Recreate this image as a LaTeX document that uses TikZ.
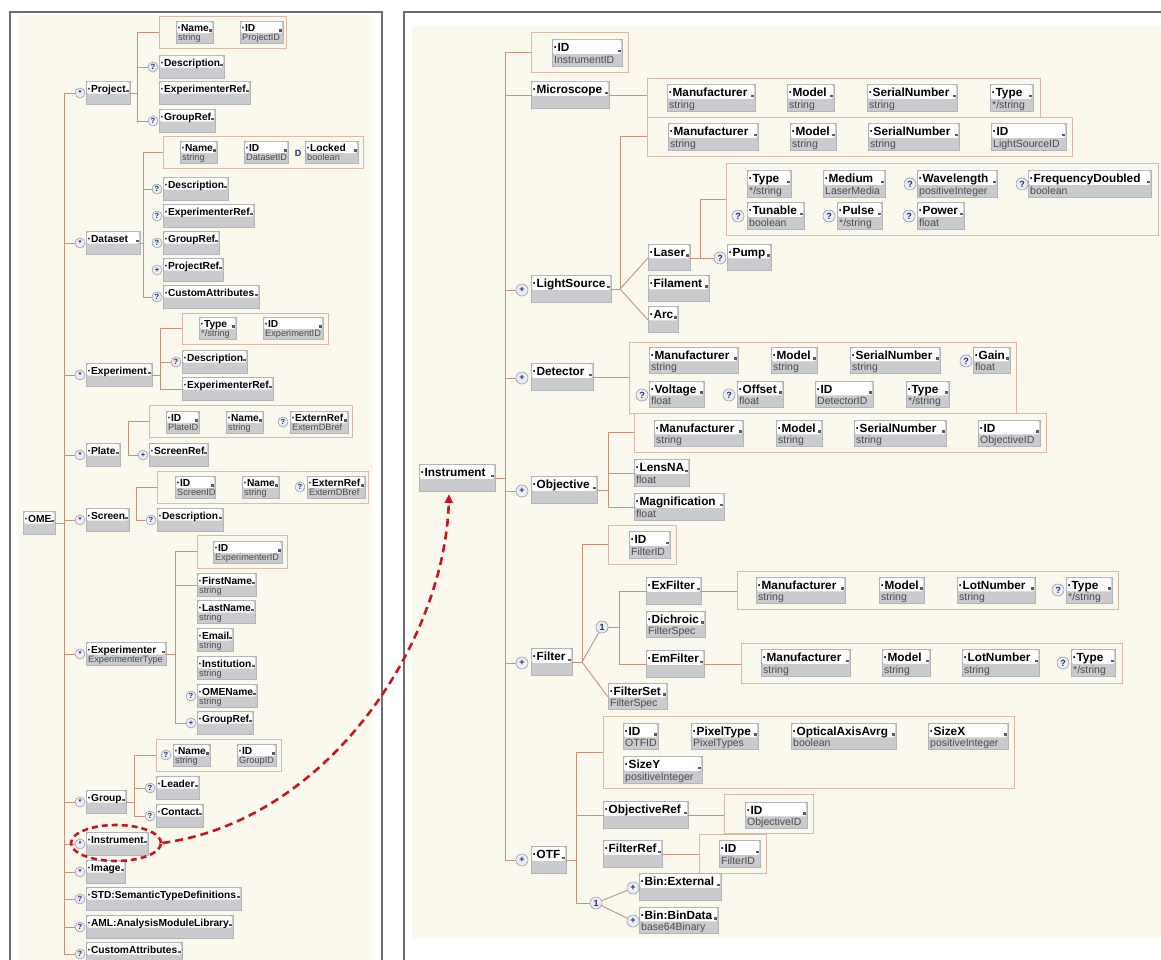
\documentclass[tikz,border=0pt]{standalone}
\usepackage{fontspec}
\setmainfont{Liberation Sans}
\usetikzlibrary{shapes.geometric,arrows.meta}
\definecolor{bg}{RGB}{251,248,238}
\definecolor{conncol}{RGB}{200,145,125}
\definecolor{grpb}{RGB}{218,185,170}
\definecolor{eg}{RGB}{201,203,207}
\definecolor{egb}{RGB}{178,180,184}
\definecolor{markc}{RGB}{90,90,95}
\definecolor{typc}{RGB}{75,75,80}
\definecolor{bfill}{RGB}{236,238,245}
\definecolor{bdraw}{RGB}{150,156,172}
\definecolor{btext}{RGB}{30,45,110}
\definecolor{fr}{RGB}{110,110,110}
\definecolor{redd}{RGB}{200,22,30}
\def\lblfont{\bfseries\fontsize{10.2}{12}\selectfont}
\def\typfont{\fontsize{9.2}{11}\selectfont}
\def\bfont{\bfseries\fontsize{7.5}{8}\selectfont}
\def\bsz{10}
\def\io{12}
\tikzset{
 elembox/.style={anchor=north west, draw=egb, fill=eg, line width=0.5pt, inner sep=0pt, outer sep=0pt, rectangle},
 grpbox/.style={anchor=north west, draw=grpb, fill=bg, line width=0.9pt, inner sep=0pt, outer sep=0pt, rectangle},
 lbl/.style={anchor=base west, inner sep=0pt, font=\lblfont},
 typ/.style={anchor=base west, inner sep=0pt, font=\typfont, text=typc},
 badge/.style={circle, draw=bdraw, fill=bfill, line width=0.6pt, inner sep=0pt, minimum size=\bsz pt, font=\bfont, text=btext},
 conn/.style={draw=conncol, line width=0.9pt},
 frameline/.style={draw=fr, line width=1.3pt},
 reddash/.style={draw=redd, line width=2.6pt, dash pattern=on 8pt off 5pt},
}
\newcommand\elem[7]{%
  \node[elembox, minimum width=#4pt, minimum height=#5pt] (#1) at (#2,#3) {};
  \fill[white, rounded corners=1.5pt] (#2+1,#3+1) rectangle (#2+#4-1,#3+0.55*#5);
  \fill[markc] (#2+#4-4,#3+0.55*#5-4) rectangle (#2+#4-1.5,#3+0.55*#5-1.5);
  \node[lbl] (#1-l) at (#2+1.5,#3+0.48*#5) {·#6};
  \node[typ] (#1-t) at (#2+2,#3+#5-2.5) {#7};
  \coordinate (#1-in) at (#2,#3+\io);
  \coordinate (#1-out) at (#2+#4,#3+\io);
}
\newcommand\grp[5]{\node[grpbox, minimum width=#4pt, minimum height=#5pt] (#1) at (#2,#3) {};}
\newcommand\bdg[4]{\node[badge] (#1) at (#2,#3) {#4};}
\newcommand\spine[3]{\draw[conn] (#2) -- (#2 -| #1) -- (#3 -| #1) -- (#3);}
\newcommand\stub[2]{\draw[conn] (#2) -- (#2 -| #1);}
\begin{document}
\begin{tikzpicture}[x=1pt,y=-1pt]
\useasboundingbox (0,0) rectangle (1161,960);
\fill[white] (0,0) rectangle (1161,960);
% panels
\fill[bg] (18,15) rectangle (373,960);
\draw[frameline] (10,960) -- (10,12) -- (382,12) -- (382,960);
\fill[bg] (412,26) rectangle (1161,938);
\draw[frameline] (404,960) -- (404,12) -- (1161,12);

% ================= LEFT PANEL =================
% Project
\grp{pjbox}{159}{16}{127}{32}
\elem{pjname}{176}{21}{37}{22}{Name}{string}
\elem{pjid}{240}{21}{43}{22}{ID}{ProjectID}
\elem{pjdesc}{159}{55}{65}{23}{Description}{}
\bdg{pjdesc-b}{153}{67}{?}
\elem{pjexp}{159}{81}{91}{23}{ExperimenterRef}{}
\elem{pjgrp}{159}{109}{56}{23}{GroupRef}{}
\bdg{pjgrp-b}{153}{121}{?}
\elem{project}{86}{81}{44}{23}{Project}{}
\bdg{project-b}{80}{93}{*}
% Dataset
\grp{dsbox}{163}{136}{200}{32}
\elem{dsname}{180}{141}{37}{22}{Name}{string}
\elem{dsid}{244}{141}{44}{22}{ID}{DatasetID}
\node[inner sep=0pt, text=btext, font=\bfseries\fontsize{9}{9}\selectfont] (dsD) at (298,153) {D};
\elem{dslock}{305}{141}{53}{22}{Locked}{boolean}
\elem{dsdesc}{163}{177}{65}{23}{Description}{}
\bdg{dsdesc-b}{157}{189}{?}
\elem{dsexp}{163}{204}{91}{23}{ExperimenterRef}{}
\bdg{dsexp-b}{157}{216}{?}
\elem{dsgrp}{163}{231}{56}{23}{GroupRef}{}
\bdg{dsgrp-b}{157}{243}{?}
\elem{dsproj}{163}{258}{60}{23}{ProjectRef}{}
\bdg{dsproj-b}{157}{270}{+}
\elem{dscust}{163}{285}{96}{23}{CustomAttributes}{}
\bdg{dscust-b}{157}{297}{?}
\elem{dataset}{86}{231}{54}{23}{Dataset}{}
\bdg{dataset-b}{80}{243}{*}
% Experiment
\grp{exbox}{182}{313}{146}{31}
\elem{extype}{199}{317}{37}{22}{Type}{*/string}
\elem{exid}{263}{317}{60}{22}{ID}{ExperimentID}
\elem{exdesc}{182}{350}{65}{23}{Description}{}
\bdg{exdesc-b}{176}{362}{?}
\elem{exexp}{182}{377}{91}{23}{ExperimenterRef}{}
\elem{experiment}{86}{363}{66}{23}{Experiment}{}
\bdg{experiment-b}{80}{375}{*}
% Plate
\grp{plbox}{149}{405}{203}{32}
\elem{plid}{166}{411}{33}{22}{ID}{PlateID}
\elem{plname}{226}{411}{37}{22}{Name}{string}
\bdg{plext-b}{283}{422}{?}
\elem{plext}{290}{411}{58}{22}{ExternRef}{ExternDBref}
\elem{plate}{86}{443}{34}{23}{Plate}{}
\bdg{plate-b}{80}{455}{*}
\elem{plscr}{149}{443}{59}{23}{ScreenRef}{}
\bdg{plscr-b}{143}{455}{+}
% Screen
\grp{scbox}{157}{471}{211}{32}
\elem{scid}{175}{476}{40}{22}{ID}{ScreenID}
\elem{scname}{242}{476}{37}{22}{Name}{string}
\bdg{scext-b}{300}{487}{?}
\elem{scext}{307}{476}{58}{22}{ExternRef}{ExternDBref}
\elem{screen}{86}{508}{43}{23}{Screen}{}
\bdg{screen-b}{80}{520}{*}
\elem{scdesc}{157}{508}{66}{23}{Description}{}
\bdg{scdesc-b}{151}{520}{?}
% OME
\elem{ome}{23}{511}{32}{23}{OME}{}
% Experimenter
\grp{eibox}{197}{535}{90}{33}
\elem{eiid}{213}{541}{69}{22}{ID}{ExperimenterID}
\elem{efirst}{197}{573}{59}{23}{FirstName}{string}
\elem{elast}{197}{600}{58}{23}{LastName}{string}
\elem{email}{197}{628}{36}{23}{Email}{string}
\elem{einst}{197}{656}{59}{23}{Institution}{string}
\elem{eome}{197}{684}{60}{23}{OMEName}{string}
\bdg{eome-b}{191}{696}{?}
\elem{egrp}{197}{711}{56}{23}{GroupRef}{}
\bdg{egrp-b}{191}{723}{+}
\elem{experimenter}{86}{642}{80}{23}{Experimenter}{ExperimenterType}
\bdg{experimenter-b}{80}{654}{*}
% Group
\grp{gpbox}{156}{739}{125}{32}
\bdg{gpname-b}{166}{755}{?}
\elem{gpname}{173}{744}{37}{22}{Name}{string}
\elem{gpid}{237}{744}{39}{22}{ID}{GroupID}
\elem{gplead}{156}{776}{43}{23}{Leader}{}
\bdg{gplead-b}{150}{788}{?}
\elem{gpcont}{156}{804}{47}{23}{Contact}{}
\bdg{gpcont-b}{150}{816}{?}
\elem{group}{86}{790}{40}{23}{Group}{}
\bdg{group-b}{80}{802}{*}
% rest
\elem{instrL}{86}{832}{62}{23}{Instrument}{}
\bdg{instrL-b}{80}{844}{*}
\elem{image}{86}{860}{39}{23}{Image}{}
\bdg{image-b}{80}{872}{*}
\elem{std}{86}{887}{155}{23}{STD:SemanticTypeDefinitions}{}
\bdg{std-b}{80}{899}{?}
\elem{aml}{86}{915}{147}{23}{AML:AnalysisModuleLibrary}{}
\bdg{aml-b}{80}{927}{?}
\elem{cust}{86}{942}{96}{23}{CustomAttributes}{}
\bdg{cust-b}{80}{954}{?}

% left connectors
\coordinate (mS) at (64,0);
\spine{mS}{project-b.west}{cust-b.west}
\stub{mS}{ome-out}
\foreach \n in {dataset,experiment,plate,screen,experimenter,group,instrL,image,std,aml}{\stub{mS}{\n-b.west}}
\coordinate (pjS) at (137,0);
\spine{pjS}{pjbox.west}{pjgrp-b.west}
\stub{pjS}{pjdesc-b.west}
\stub{pjS}{project-out}
\coordinate (dsS) at (143,0);
\spine{dsS}{dsbox.west}{dscust-b.west}
\stub{dsS}{dsdesc-b.west}
\stub{dsS}{dataset-out}
\coordinate (exS) at (160,0);
\spine{exS}{exbox.west}{exexp-in}
\stub{exS}{exdesc-b.west}
\stub{exS}{experiment-out}
\coordinate (plS) at (128,0);
\spine{plS}{plbox.west}{plscr-b.west}
\coordinate (scS) at (136,0);
\spine{scS}{scbox.west}{scdesc-b.west}
\coordinate (eS) at (175,0);
\spine{eS}{eibox.west}{egrp-b.west}
\stub{eS}{efirst-in}
\stub{eS}{experimenter-out}
\coordinate (gS) at (134,0);
\spine{gS}{gpbox.west}{gpcont-b.west}
\stub{gS}{gplead-b.west}
\stub{gS}{group-out}

% ================= RIGHT PANEL =================
\def\lblfont{\bfseries\fontsize{11.8}{13}\selectfont}
\def\typfont{\fontsize{10.5}{12}\selectfont}
\def\bfont{\bfseries\fontsize{9}{9}\selectfont}
\def\bsz{12}
\def\io{14}
\elem{instrR}{419}{464}{76}{27}{Instrument}{}
\grp{idbox}{531}{32}{97}{40}
\elem{idin}{552}{39}{70}{27}{ID}{InstrumentID}
\elem{micro}{531}{81}{78}{27}{Microscope}{}
\grp{mibox}{647}{78}{393}{39}
\elem{mim}{667}{84}{88}{27}{Manufacturer}{string}
\elem{mimo}{787}{84}{47}{27}{Model}{string}
\elem{mis}{867}{84}{90}{27}{SerialNumber}{string}
\elem{mit}{990}{84}{43}{27}{Type}{*/string}
\grp{lsbox}{647}{117}{425}{39}
\elem{lsm}{668}{123}{90}{27}{Manufacturer}{string}
\elem{lsmo}{790}{123}{46}{27}{Model}{string}
\elem{lss}{868}{123}{91}{27}{SerialNumber}{string}
\elem{lsid}{991}{123}{75}{27}{ID}{LightSourceID}
\grp{labox}{726}{163}{432}{72}
\elem{latype}{747}{170}{44}{27}{Type}{*/string}
\elem{lamed}{823}{170}{62}{27}{Medium}{LaserMedia}
\bdg{lawave-b}{910}{184}{?}
\elem{lawave}{917}{170}{80}{27}{Wavelength}{positiveInteger}
\bdg{lafreq-b}{1022}{184}{?}
\elem{lafreq}{1028}{170}{123}{27}{FrequencyDoubled}{boolean}
\bdg{latun-b}{738}{216}{?}
\elem{latun}{747}{202}{57}{27}{Tunable}{boolean}
\bdg{lapulse-b}{829}{216}{?}
\elem{lapulse}{837}{202}{45}{27}{Pulse}{*/string}
\bdg{lapow-b}{909}{216}{?}
\elem{lapow}{917}{202}{47}{27}{Power}{float}
\elem{laser}{648}{244}{42}{26}{Laser}{}
\elem{pump}{727}{244}{44}{26}{Pump}{}
\bdg{pump-b}{720}{258}{?}
\elem{filament}{648}{275}{61}{26}{Filament}{}
\elem{arc}{648}{306}{30}{26}{Arc}{}
\elem{lightsrc}{531}{275}{80}{27}{LightSource}{}
\bdg{lightsrc-b}{522}{290}{+}
% Detector
\grp{detbox}{629}{342}{387}{71}
\elem{dm}{649}{347}{89}{26}{Manufacturer}{string}
\elem{dmo}{771}{347}{46}{26}{Model}{string}
\elem{dsn}{850}{347}{90}{26}{SerialNumber}{string}
\bdg{dg-b}{966}{361}{?}
\elem{dg}{973}{347}{37}{26}{Gain}{float}
\bdg{dv-b}{642}{395}{?}
\elem{dv}{649}{381}{55}{26}{Voltage}{float}
\bdg{dof-b}{729}{395}{?}
\elem{dof}{737}{381}{46}{26}{Offset}{float}
\elem{did}{815}{381}{58}{26}{ID}{DetectorID}
\elem{dt}{906}{381}{43}{26}{Type}{*/string}
\elem{detector}{531}{363}{62}{27}{Detector}{}
\bdg{detector-b}{522}{378}{+}
% Objective
\grp{objbox}{634}{413}{412}{39}
\elem{om}{654}{420}{89}{26}{Manufacturer}{string}
\elem{omo}{776}{420}{46}{26}{Model}{string}
\elem{osn}{854}{420}{92}{26}{SerialNumber}{string}
\elem{oid}{978}{420}{62}{26}{ID}{ObjectiveID}
\elem{lensna}{634}{459}{55}{27}{LensNA}{float}
\elem{magn}{634}{493}{90}{27}{Magnification}{float}
\elem{objective}{531}{476}{66}{27}{Objective}{}
\bdg{objective-b}{522}{491}{+}
% Filter
\grp{fidbox}{608}{525}{68}{39}
\elem{fid}{629}{531}{41}{27}{ID}{FilterID}
\elem{exfilter}{646}{577}{55}{27}{ExFilter}{}
\elem{dichroic}{646}{611}{59}{26}{Dichroic}{FilterSpec}
\elem{emfilter}{646}{650}{58}{27}{EmFilter}{}
\elem{filterset}{608}{683}{59}{26}{FilterSet}{FilterSpec}
\bdg{ch1}{602}{627}{1}
\elem{filter}{531}{648}{41}{27}{Filter}{}
\bdg{filter-b}{522}{663}{+}
\grp{exbox2}{737}{571}{381}{38}
\elem{xm}{756}{577}{89}{26}{Manufacturer}{string}
\elem{xmo}{879}{577}{45}{26}{Model}{string}
\elem{xl}{957}{577}{78}{26}{LotNumber}{string}
\bdg{xt-b}{1058}{590}{?}
\elem{xt}{1066}{577}{46}{26}{Type}{*/string}
\grp{embox}{741}{643}{381}{40}
\elem{emm}{761}{649}{89}{27}{Manufacturer}{string}
\elem{emo}{882}{649}{48}{27}{Model}{string}
\elem{eml}{962}{649}{77}{27}{LotNumber}{string}
\bdg{emt-b}{1063}{663}{?}
\elem{emt}{1071}{649}{44}{27}{Type}{*/string}
% OTF
\grp{otfbox}{603}{716}{411}{72}
\elem{oti}{623}{723}{35}{26}{ID}{OTFID}
\elem{otp}{691}{723}{67}{26}{PixelType}{PixelTypes}
\elem{oto}{791}{723}{105}{26}{OpticalAxisAvrg}{boolean}
\elem{otx}{928}{723}{80}{26}{SizeX}{positiveInteger}
\elem{oty}{623}{756}{79}{27}{SizeY}{positiveInteger}
\elem{objref}{603}{801}{85}{27}{ObjectiveRef}{}
\grp{objrefbox}{724}{794}{89}{39}
\elem{orid}{745}{802}{62}{26}{ID}{ObjectiveID}
\elem{filtref}{603}{840}{59}{27}{FilterRef}{}
\grp{filtrefbox}{699}{834}{67}{39}
\elem{frid}{719}{840}{41}{27}{ID}{FilterID}
\elem{otf}{531}{846}{35}{27}{OTF}{}
\bdg{otf-b}{522}{860}{+}
\bdg{ch2}{596}{903}{1}
\elem{binext}{639}{873}{82}{27}{Bin:External}{}
\bdg{binext-b}{633}{888}{+}
\elem{bindata}{639}{907}{79}{26}{Bin:BinData}{base64Binary}
\bdg{bindata-b}{633}{921}{+}

% right connectors
\coordinate (rS) at (505,0);
\spine{rS}{idbox.west}{otf-b.west}
\stub{rS}{micro-in}
\stub{rS}{instrR-out}
\foreach \n in {lightsrc,detector,objective,filter}{\stub{rS}{\n-b.west}}
\draw[conn] (micro-out) -- (micro-out -| mibox.west);
\coordinate (lsS) at (620,0);
\draw[conn] (lightsrc-out) -- (lightsrc-out -| lsS) -- (lsbox.west -| lsS) -- (lsbox.west);
\draw[conn] (lightsrc-out -| lsS) -- (laser-in);
\draw[conn] (lightsrc-out -| lsS) -- (arc-in);
\coordinate (laS) at (700,0);
\spine{laS}{labox.west}{pump-b.west}
\stub{laS}{laser-out}
\draw[conn] (detector-out) -- (detector-out -| detbox.west);
\coordinate (oS) at (608,0);
\spine{oS}{objbox.west}{magn-in}
\stub{oS}{lensna-in}
\stub{oS}{objective-out}
\coordinate (fS) at (582,0);
\spine{fS}{fidbox.west}{filter-out}
\draw[conn] (filter-out -| fS) -- (ch1);
\draw[conn] (filter-out -| fS) -- (filterset-in);
\coordinate (cS) at (619,0);
\stub{cS}{ch1.east}
\spine{cS}{exfilter-in}{emfilter-in}
\draw[conn] (exfilter-out) -- (exfilter-out -| exbox2.west);
\draw[conn] (emfilter-out) -- (emfilter-out -| embox.west);
\coordinate (tS) at (576,0);
\spine{tS}{otfbox.west}{ch2.west}
\stub{tS}{objref-in}
\stub{tS}{otf-out}
\draw[conn] (objref-out) -- (objref-out -| objrefbox.west);
\draw[conn] (filtref-out) -- (filtref-out -| filtrefbox.west);
\draw[conn] (ch2) -- (binext-b);
\draw[conn] (ch2) -- (bindata-b);

% highlight and link
\node[ellipse, reddash, dash pattern=on 6pt off 4pt, minimum width=90pt, minimum height=36pt, inner sep=0pt] (ell) at (116,843) {};
\draw[reddash, -{Triangle[length=9pt,width=8pt]}] (ell.east) .. controls (330,820) and (445,640) .. ([xshift=-8pt,yshift=-3pt]instrR.south);
\end{tikzpicture}
\end{document}
